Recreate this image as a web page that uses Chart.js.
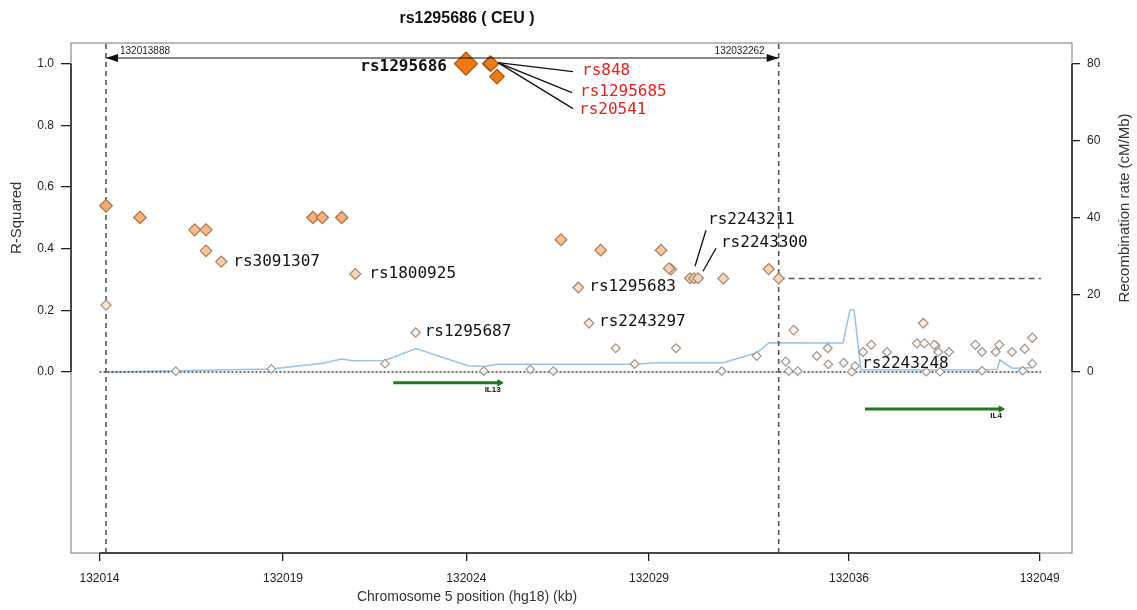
<!DOCTYPE html>
<html>
<head>
<meta charset="utf-8">
<title>rs1295686 ( CEU )</title>
<script src="https://cdn.jsdelivr.net/npm/chart.js@4.4.1/dist/chart.umd.min.js"></script>
<style>
  html, body { margin: 0; padding: 0; background: #fff; }
  #wrap { position: relative; width: 1137px; height: 610px; }
</style>
</head>
<body>
<div id="wrap"><canvas id="ldChart" width="1137" height="610"></canvas></div>
<script>
// SNPs: position (kb, hg18), r-squared with rs1295686, name when labelled
const snpPos = [
    132013.888, 132013.888, 132014.817, 132015.792, 132016.311, 132016.619, 132016.619, 132017.037,
    132018.403, 132019.542, 132019.796, 132020.326, 132020.698, 132021.509, 132022.347, 132023.721,
    132024.205, 132024.377, 132024.404, 132024.568, 132025.478, 132026.106, 132026.316, 132026.789,
    132027.081, 132027.401, 132027.810, 132028.329, 132029.048, 132029.266, 132029.321, 132029.457,
    132029.840, 132029.949, 132030.058, 132030.706, 132030.749, 132031.662, 132031.990, 132032.262,
    132032.454, 132032.536, 132032.672, 132032.782, 132033.301, 132033.601, 132033.618, 132034.038,
    132034.257, 132034.347, 132034.566, 132034.792, 132035.221, 132036.040, 132036.212, 132036.240,
    132036.294, 132036.513, 132036.551, 132036.622, 132036.669, 132036.914, 132037.633, 132037.816,
    132037.816, 132038.190, 132038.288, 132038.635, 132038.928, 132038.982, 132039.190, 132039.190
];
const snpR2 = [
    0.539, 0.217, 0.501, 0.003, 0.461, 0.461, 0.393, 0.358,
    0.010, 0.501, 0.501, 0.501, 0.318, 0.027, 0.128, 1.000,
    0.003, 1.000, 1.000, 0.958, 0.008, 0.003, 0.429, 0.274,
    0.158, 0.395, 0.077, 0.026, 0.395, 0.336, 0.333, 0.077,
    0.304, 0.304, 0.304, 0.003, 0.303, 0.052, 0.334, 0.303,
    0.034, 0.003, 0.136, 0.003, 0.052, 0.077, 0.025, 0.030,
    0.001, 0.019, 0.065, 0.088, 0.065, 0.093, 0.158, 0.093,
    0.001, 0.088, 0.085, 0.065, 0.001, 0.065, 0.088, 0.065,
    0.004, 0.065, 0.088, 0.065, 0.004, 0.075, 0.111, 0.027
];
const snpName = [
    '', '', '', '', '', '', '', 'rs3091307',
    '', '', '', '', 'rs1800925', '', 'rs1295687', 'rs1295686',
    '', 'rs848', 'rs1295685', 'rs20541', '', '', '', 'rs1295683',
    'rs2243297', '', '', '', '', '', '', '',
    '', 'rs2243211', 'rs2243300', '', '', '', '', '',
    '', '', '', '', '', '', '', '',
    '', 'rs2243248', '', '', '', '', '', '',
    '', '', '', '', '', '', '', '',
    '', '', '', '', '', '', '', ''
];
const indexSnp = 'rs1295686';

// recombination rate (cM/Mb)
const recombPos = [
    132013.888, 132018.395, 132019.815, 132020.307, 132020.635, 132021.509, 132022.356, 132023.776,
    132024.213, 132024.568, 132028.338, 132028.938, 132030.741, 132031.670, 132031.998, 132034.019,
    132034.210, 132034.320, 132034.511, 132037.843, 132038.226, 132038.308, 132038.635, 132039.209
];
const recombRate = [
    0.0, 0.8, 2.3, 3.4, 2.9, 3.0, 6.1, 1.6,
    1.4, 2.0, 2.0, 2.4, 2.4, 5.0, 7.6, 7.5,
    16.1, 16.1, 0.5, 0.5, 0.7, 3.1, 1.0, 1.1
];

// x tick marks and the labels printed under them
const xTickPos = [132013.710, 132018.723, 132023.730, 132028.720, 132034.183, 132039.392];
const xTickLabels = ['132014', '132019', '132024', '132029', '132036', '132049'];
const yTicks = [0, 0.2, 0.4, 0.6, 0.8, 1.0];
const rateTicks = [0, 20, 40, 60, 80];

// region of interest
const regionBounds = [132013.888, 132032.262];
const regionLabels = ['132013888', '132032262'];
const edgeLineX = [132032.262, 132039.430];
const edgeLineR2 = [0.303, 0.303];

// genes
const geneNames = ['IL13', 'IL4'];
const geneStart = [132021.736, 132034.620];
const geneEnd = [132024.640, 132038.330];

// ---- layout ----
const X_MIN = 132012.932, X_MAX = 132040.274;
const Y_MIN = -0.587, Y_MAX = 1.067;
const RATE_SCALE = 80;
const geneRowY = [-0.035, -0.12];
const titleX = 467;

const sansFont = '"Liberation Sans", Arial, sans-serif';
const monoFont = '"DejaVu Sans Mono", monospace';
const labelRed = '#E4221C';

const labelLayout = {
    rs1295686: { dx: -19, dy: 3, align: 'right', bold: true },
    rs848:     { dx: 92, dy: 7, red: true, leader: [8, -1, 83, 8] },
    rs1295685: { dx: 89, dy: 28, red: true, leader: [7, -1, 81, 29] },
    rs20541:   { dx: 82, dy: 33, red: true, leader: [1, -14, 76, 32] },
    rs3091307: { dx: 12, dy: 0 },
    rs1800925: { dx: 14, dy: 0 },
    rs1295687: { dx: 9, dy: -1 },
    rs1295683: { dx: 11, dy: -1 },
    rs2243297: { dx: 10, dy: -1 },
    rs2243211: { dx: 14, dy: -58, leader: [1, -12, 12, -48] },
    rs2243300: { dx: 23, dy: -35, leader: [5, -7, 18, -30] },
    rs2243248: { dx: 7, dy: -2 }
};

function mix(a, b, t) {
    return a.map((v, i) => Math.round(v + (b[i] - v) * t));
}

function rgb(c) {
    return `rgb(${c[0]}, ${c[1]}, ${c[2]})`;
}

function pointStyleFor(i) {
    const r2 = snpR2[i];
    if (snpName[i] === indexSnp) return { fill: '#F07A12', border: '#A9520C', radius: 11.5 };
    if (r2 >= 0.9) return { fill: '#F07C16', border: '#A9540E', radius: 4 + 3.5 * r2 };
    const t = Math.min(1, Math.pow(r2 / 0.55, 1.3));
    return {
        fill: rgb(mix([255, 255, 255], [242, 168, 106], t)),
        border: rgb(mix([160, 152, 146], [176, 108, 54], t)),
        radius: 4.2 + 4 * r2
    };
}

const drawOrder = snpPos.map((_, i) => i).sort((a, b) => {
    const ka = snpR2[a] + (snpName[a] === indexSnp ? 1 : 0);
    const kb = snpR2[b] + (snpName[b] === indexSnp ? 1 : 0);
    return ka - kb;
});
const pointStyles = drawOrder.map(pointStyleFor);

function lineSet(data, color, width, dash, order) {
    return {
        type: 'line',
        data,
        borderColor: color,
        borderWidth: width,
        borderDash: dash,
        pointRadius: 0,
        fill: false,
        tension: 0,
        order
    };
}

const datasets = [];

datasets.push({
    type: 'scatter',
    label: 'SNPs',
    data: drawOrder.map(i => ({ x: snpPos[i], y: snpR2[i] })),
    pointStyle: 'rectRot',
    pointRadius: pointStyles.map(s => s.radius),
    pointHoverRadius: pointStyles.map(s => s.radius),
    backgroundColor: pointStyles.map(s => s.fill),
    borderColor: pointStyles.map(s => s.border),
    borderWidth: 1.2,
    order: 0
});

datasets.push(Object.assign(
    lineSet(recombPos.map((x, i) => ({ x, y: recombRate[i] })), 'rgb(150, 195, 230)', 1.5, [], 3),
    { yAxisID: 'y2' }
));

datasets.push(lineSet([{ x: xTickPos[0], y: 0 }, { x: edgeLineX[1], y: 0 }], '#222', 1.3, [2, 2], 2));
datasets.push(lineSet(edgeLineX.map((x, i) => ({ x, y: edgeLineR2[i] })), '#555', 1.6, [6, 4], 2));

regionBounds.forEach(b => {
    datasets.push(lineSet([{ x: b, y: Y_MIN }, { x: b, y: Y_MAX }], '#555', 1.6, [5, 4], 2));
});

geneNames.forEach((name, g) => {
    datasets.push({
        type: 'line',
        label: name,
        data: [{ x: geneStart[g], y: geneRowY[g] }, { x: geneEnd[g], y: geneRowY[g] }],
        borderColor: '#1F7A1F',
        borderWidth: 3,
        pointStyle: 'triangle',
        rotation: 90,
        pointRadius: [0, 3.5],
        pointBackgroundColor: '#1F7A1F',
        pointBorderColor: '#1F7A1F',
        pointBorderWidth: 1,
        tension: 0,
        order: 1
    });
});

const decorPlugin = {
    id: 'decor',
    afterDraw(chart) {
        const ctx = chart.ctx;
        const area = chart.chartArea;
        const xs = chart.scales.x;
        const ys = chart.scales.y;
        const rs = chart.scales.y2;

        ctx.save();

        // frame and axis segments
        ctx.strokeStyle = '#777';
        ctx.lineWidth = 1;
        ctx.strokeRect(area.left, area.top, area.right - area.left, area.bottom - area.top);

        ctx.strokeStyle = '#222';
        ctx.lineWidth = 1.5;
        ctx.beginPath();
        ctx.moveTo(area.left, ys.getPixelForValue(yTicks[0]));
        ctx.lineTo(area.left, ys.getPixelForValue(yTicks[yTicks.length - 1]));
        ctx.moveTo(area.right, rs.getPixelForValue(rateTicks[0]));
        ctx.lineTo(area.right, rs.getPixelForValue(rateTicks[rateTicks.length - 1]));
        ctx.moveTo(xs.getPixelForValue(xTickPos[0]), area.bottom);
        ctx.lineTo(xs.getPixelForValue(xTickPos[xTickPos.length - 1]), area.bottom);
        ctx.stroke();

        // region bracket
        const bx0 = xs.getPixelForValue(regionBounds[0]);
        const bx1 = xs.getPixelForValue(regionBounds[1]);
        const by = area.top + 15;
        ctx.strokeStyle = '#111';
        ctx.lineWidth = 1;
        ctx.beginPath();
        ctx.moveTo(bx0, by);
        ctx.lineTo(bx1, by);
        ctx.stroke();
        ctx.fillStyle = '#111';
        ctx.beginPath();
        ctx.moveTo(bx0, by);
        ctx.lineTo(bx0 + 12, by - 4);
        ctx.lineTo(bx0 + 12, by + 4);
        ctx.closePath();
        ctx.moveTo(bx1, by);
        ctx.lineTo(bx1 - 12, by - 4);
        ctx.lineTo(bx1 - 12, by + 4);
        ctx.closePath();
        ctx.fill();

        ctx.font = `10px ${sansFont}`;
        ctx.textBaseline = 'middle';
        ctx.fillStyle = '#222';
        ctx.textAlign = 'left';
        ctx.fillText(regionLabels[0], bx0 + 14, by - 7);
        ctx.textAlign = 'right';
        ctx.fillText(regionLabels[1], bx1 - 14, by - 7);

        // gene names
        ctx.font = `bold 8px ${sansFont}`;
        ctx.fillStyle = '#111';
        ctx.textAlign = 'right';
        geneNames.forEach((name, g) => {
            ctx.fillText(name, xs.getPixelForValue(geneEnd[g]) + 1, ys.getPixelForValue(geneRowY[g]) + 7);
        });

        // SNP labels
        snpName.forEach((name, i) => {
            const lay = labelLayout[name];
            if (!name || !lay) return;
            const px = xs.getPixelForValue(snpPos[i]);
            const py = ys.getPixelForValue(snpR2[i]);
            if (lay.leader) {
                ctx.strokeStyle = '#111';
                ctx.lineWidth = 1.3;
                ctx.beginPath();
                ctx.moveTo(px + lay.leader[0], py + lay.leader[1]);
                ctx.lineTo(px + lay.leader[2], py + lay.leader[3]);
                ctx.stroke();
            }
            ctx.font = `${lay.bold ? 'bold ' : ''}16px ${monoFont}`;
            ctx.fillStyle = lay.red ? labelRed : '#111';
            ctx.textAlign = lay.align || 'left';
            ctx.textBaseline = 'middle';
            ctx.fillText(name, px + lay.dx, py + lay.dy);
        });

        // titles
        ctx.fillStyle = '#111';
        ctx.textAlign = 'center';
        ctx.textBaseline = 'middle';
        ctx.font = `bold 16px ${sansFont}`;
        ctx.fillText('rs1295686 ( CEU )', titleX, 19);

        ctx.font = `14px ${sansFont}`;
        ctx.fillStyle = '#333';
        ctx.fillText('Chromosome 5 position (hg18) (kb)', titleX, 597);

        ctx.font = `15px ${sansFont}`;
        ctx.save();
        ctx.translate(17, (ys.getPixelForValue(0) + ys.getPixelForValue(1)) / 2);
        ctx.rotate(-Math.PI / 2);
        ctx.fillText('R-Squared', 0, 0);
        ctx.restore();

        ctx.save();
        ctx.translate(1125, 208);
        ctx.rotate(-Math.PI / 2);
        ctx.fillText('Recombination rate (cM/Mb)', 0, 0);
        ctx.restore();

        ctx.restore();
    }
};

function tickFont() {
    return { family: sansFont, size: 12 };
}

const config = {
    type: 'scatter',
    data: { datasets },
    options: {
        responsive: false,
        animation: false,
        layout: { padding: { top: 43, left: 0, right: 0, bottom: 0 } },
        plugins: {
            legend: { display: false },
            title: { display: false },
            tooltip: { enabled: false }
        },
        scales: {
            x: {
                type: 'linear',
                position: 'bottom',
                min: X_MIN,
                max: X_MAX,
                afterBuildTicks: scale => { scale.ticks = xTickPos.map(v => ({ value: v })); },
                afterFit: scale => { scale.height = 57; },
                ticks: {
                    autoSkip: false,
                    maxRotation: 0,
                    padding: 10,
                    color: '#222',
                    font: tickFont(),
                    callback: (value, i) => xTickLabels[i]
                },
                grid: { drawOnChartArea: false, drawTicks: true, tickLength: 8, color: '#222', lineWidth: 1.3 },
                border: { display: false }
            },
            y: {
                type: 'linear',
                position: 'left',
                min: Y_MIN,
                max: Y_MAX,
                afterBuildTicks: scale => { scale.ticks = yTicks.map(v => ({ value: v })); },
                afterFit: scale => { scale.width = 71; },
                ticks: {
                    padding: 7,
                    color: '#222',
                    font: tickFont(),
                    callback: value => value.toFixed(1)
                },
                grid: { drawOnChartArea: false, drawTicks: true, tickLength: 10, color: '#222', lineWidth: 1.3 },
                border: { display: false }
            },
            y2: {
                type: 'linear',
                position: 'right',
                min: Y_MIN * RATE_SCALE,
                max: Y_MAX * RATE_SCALE,
                afterBuildTicks: scale => { scale.ticks = rateTicks.map(v => ({ value: v })); },
                afterFit: scale => { scale.width = 65; },
                ticks: {
                    padding: 7,
                    color: '#222',
                    font: tickFont(),
                    callback: value => String(value)
                },
                grid: { drawOnChartArea: false, drawTicks: true, tickLength: 8, color: '#222', lineWidth: 1.3 },
                border: { display: false }
            }
        }
    },
    plugins: [decorPlugin]
};

document.addEventListener('DOMContentLoaded', function() {
    const canvas = document.getElementById('ldChart');
    new Chart(canvas.getContext('2d'), config);
});
</script>
</body>
</html>
